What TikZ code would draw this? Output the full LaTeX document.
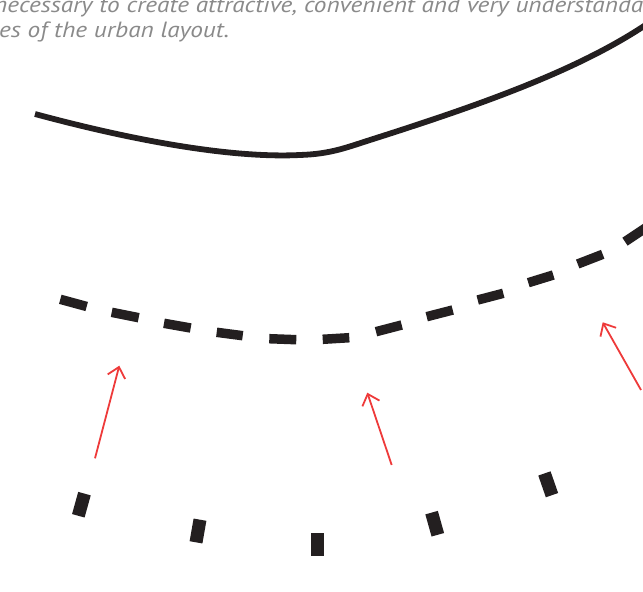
\documentclass[tikz,border=0pt]{standalone}
\usepackage{fontspec}
\setmainfont{PT Sans}
\newfontfamily\capfont[FakeStretch=1.15]{PT Sans}
\usetikzlibrary{arrows.meta}
\definecolor{ink}{HTML}{231F20}
\definecolor{arrowred}{HTML}{EE3A3A}
\definecolor{txtgray}{HTML}{8A8A8A}
\begin{document}
\begin{tikzpicture}[x=1pt,y=-1pt,
  road/.style={draw=ink,line width=5.8pt,line cap=butt},
  dashseg/.style={draw=ink,line width=9.5pt,line cap=butt},
  block/.style={fill=ink,draw=none,shape=rectangle,minimum width=13pt,minimum height=23pt,inner sep=0pt},
  flow/.style={draw=arrowred,line width=1.8pt,-{Straight Barb[length=10pt,width=18pt]}},
  caption/.style={text=txtgray,font=\capfont\itshape\fontsize{22}{26}\selectfont,anchor=base west,inner sep=0pt}]
\useasboundingbox (0,0) rectangle (643,592);
\clip (0,0) rectangle (643,592);

% caption text (cropped)
\node[caption] (line1) at (-6,12) {necessary to create attractive, convenient and very understanda};
\node[caption] (line2) at (-1,37) {es of the urban layout.};

% solid curve
\draw[road] (35,114) .. controls (150,145) and (240,158) .. (300,155)
  .. controls (330,154) and (345,148) .. (370,140)
  .. controls (480,105) and (580,70) .. (650,22);

% dashed curve
\draw[dashseg] (60.3,299.3) -- (86.7,306.5);
\draw[dashseg] (111.7,312.3) -- (138.7,317.7);
\draw[dashseg] (164,323.3) -- (190.7,328);
\draw[dashseg] (216.7,332.3) -- (242.7,335.7);
\draw[dashseg] (269.3,338.7) -- (296.3,339.7);
\draw[dashseg] (322.7,339.3) -- (349.3,337.7);
\draw[dashseg] (376,331.7) -- (401.7,325);
\draw[dashseg] (426.7,316.7) -- (452.7,310);
\draw[dashseg] (477.7,300) -- (503.3,293.3);
\draw[dashseg] (528.3,282.7) -- (553.3,275);
\draw[dashseg] (577.7,264) -- (602.7,254.3);
\draw[dashseg] (625,241.7) -- (650,225);

% sparse blocks
\node[block,rotate=-15.5] (b1) at (81.4,504.7) {};
\node[block,rotate=-10] (b2) at (198,531) {};
\node[block] (b3) at (317.3,544) {};
\node[block,rotate=15.7] (b4) at (434.7,523.7) {};
\node[block,rotate=19.2] (b5) at (548.2,484.3) {};

% red arrows
\coordinate (t1) at (95,458.3);
\coordinate (h1) at (119.3,365.7);
\coordinate (t2) at (391.7,465);
\coordinate (h2) at (367.3,392.7);
\coordinate (t3) at (641,390);
\coordinate (h3) at (602.7,322.3);
\draw[flow] (t1) -- (h1);
\draw[flow] (t2) -- (h2);
\draw[flow] (t3) -- (h3);
\end{tikzpicture}
\end{document}
